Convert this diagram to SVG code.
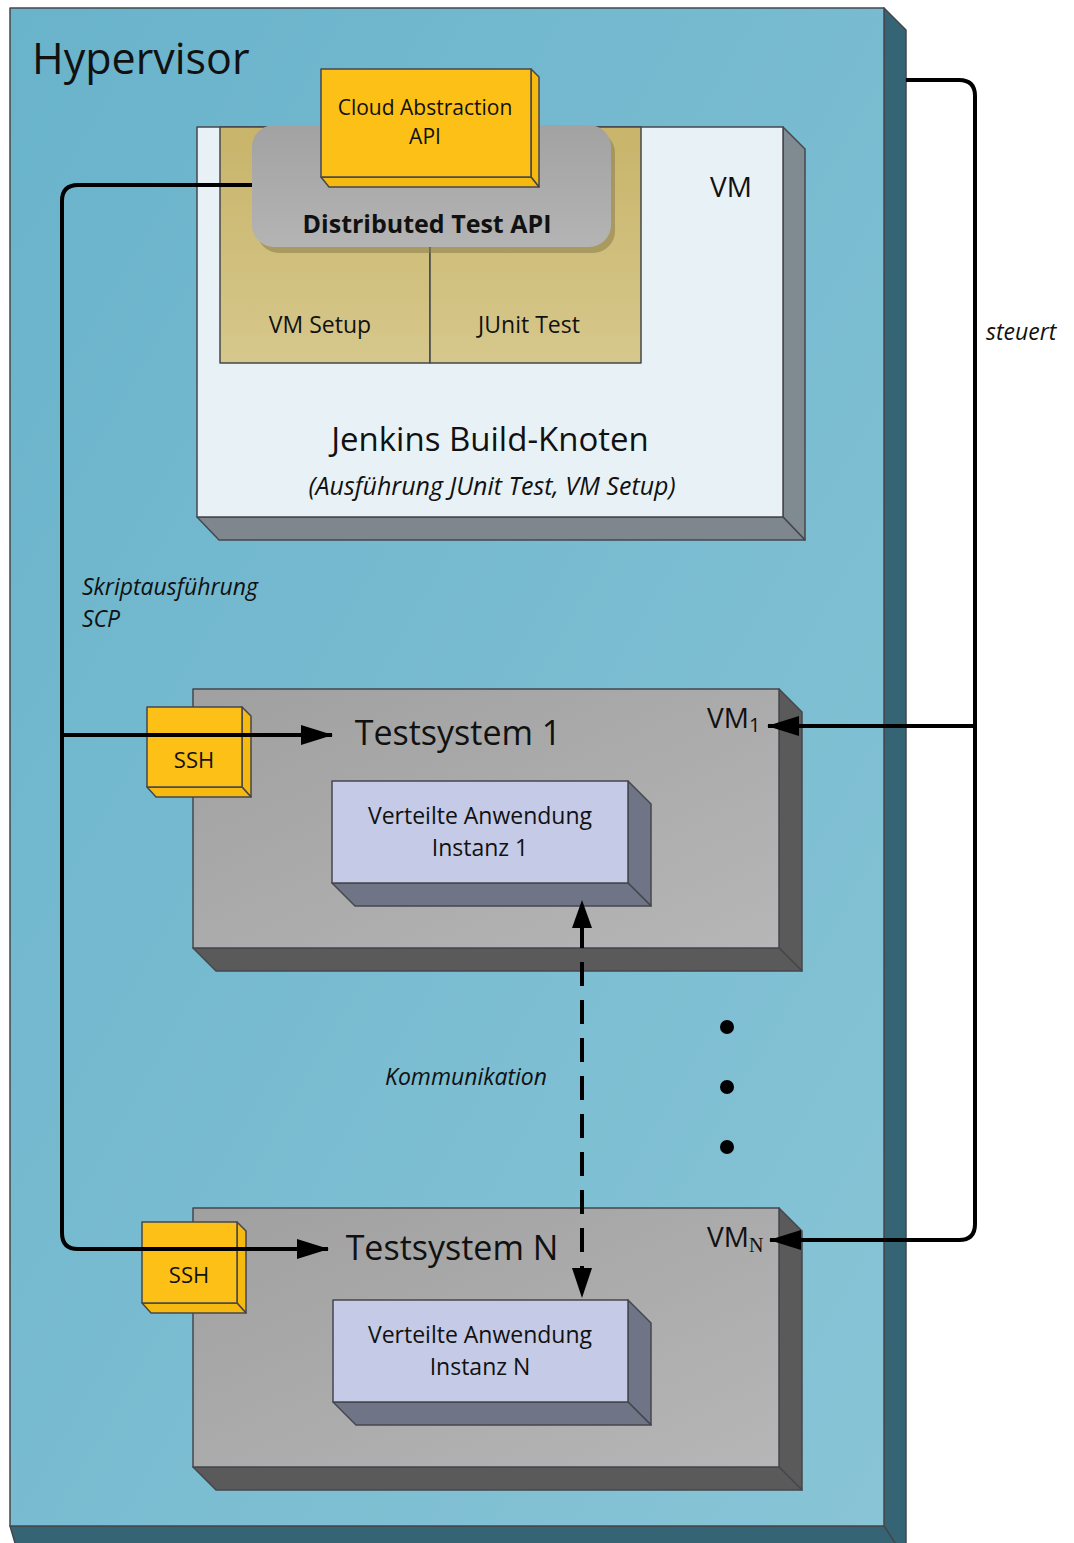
<svg xmlns="http://www.w3.org/2000/svg" width="1074" height="1543" viewBox="0 0 1074 1543">
  <style>
    text { font-family: "Open Sans", "Noto Sans", "DejaVu Sans", sans-serif; fill: #111; }
    .edge { stroke: #45474d; stroke-width: 1.5; stroke-linejoin: round; }
    .wire { fill: none; stroke: #000; stroke-width: 4; }
    .lbl { font-style: italic; font-size: 23px; }
  </style>
  <defs>
    <linearGradient id="gHyp" x1="0" y1="0" x2="1" y2="1">
      <stop offset="0" stop-color="#69b3cb"/>
      <stop offset="1" stop-color="#88c4d6"/>
    </linearGradient>
    <linearGradient id="gGray" x1="0" y1="0" x2="1" y2="1">
      <stop offset="0" stop-color="#a0a0a0"/>
      <stop offset="1" stop-color="#b6b6b6"/>
    </linearGradient>
    <linearGradient id="gGold" x1="0" y1="0" x2="0" y2="1">
      <stop offset="0" stop-color="#c8b46a"/>
      <stop offset="1" stop-color="#d6c88c"/>
    </linearGradient>
    <linearGradient id="gApi" x1="0" y1="0" x2="0" y2="1">
      <stop offset="0" stop-color="#a2a2a2"/>
      <stop offset="1" stop-color="#b4b4b4"/>
    </linearGradient>
    <marker id="ah" markerUnits="userSpaceOnUse" markerWidth="32" markerHeight="20" refX="31" refY="10" orient="auto">
      <path d="M0,0 L32,10 L0,20 z" fill="#000"/>
    </marker>
  </defs>

  <!-- Hypervisor block -->
  <g id="hypervisor">
    <polygon class="edge" points="884,8 906,30 906,1560 884,1526" fill="#356474"/>
    <polygon class="edge" points="10,1526 884,1526 906,1560 20,1560" fill="#356474"/>
    <rect class="edge" x="10" y="8" width="874" height="1518" fill="url(#gHyp)"/>
    <text x="32" y="74" font-size="43">Hypervisor</text>
  </g>

  <!-- Jenkins build node VM -->
  <g id="jenkins-vm">
    <polygon class="edge" points="783,127 805,149 805,540 783,517" fill="#808b91"/>
    <polygon class="edge" points="197,517 783,517 805,540 219,540" fill="#7d878d"/>
    <rect class="edge" x="197" y="127" width="586" height="390" fill="#e8f1f6"/>
    <text x="731" y="197" font-size="28" text-anchor="middle">VM</text>
    <text x="490" y="451" font-size="33" text-anchor="middle">Jenkins Build-Knoten</text>
    <text x="492" y="495" font-size="25" font-style="italic" text-anchor="middle">(Ausführung JUnit Test, VM Setup)</text>
  </g>

  <g id="vm-setup">
    <rect class="edge" x="220" y="127" width="210" height="236" fill="url(#gGold)"/>
    <text x="320" y="333" font-size="23" text-anchor="middle">VM Setup</text>
  </g>
  <g id="junit-test">
    <rect class="edge" x="430" y="127" width="211" height="236" fill="url(#gGold)"/>
    <text x="529" y="333" font-size="23" text-anchor="middle">JUnit Test</text>
  </g>

  <g id="distributed-test-api">
    <rect x="257" y="131" width="358" height="122" rx="22" fill="#8a7c4a" opacity="0.55"/>
    <rect x="252" y="125" width="359" height="122" rx="22" fill="url(#gApi)"/>
    <text x="427" y="233" font-size="25" font-weight="bold" text-anchor="middle">Distributed Test API</text>
  </g>

  <g id="cloud-abstraction-api">
    <polygon class="edge" points="531,69 539,77 539,187 531,177" fill="#f5b90f"/>
    <polygon class="edge" points="321,177 531,177 539,187 329,187" fill="#f5b90f"/>
    <rect class="edge" x="321" y="69" width="210" height="108" fill="#fcc016"/>
    <text x="425" y="115" font-size="21" text-anchor="middle">Cloud Abstraction</text>
    <text x="425" y="144" font-size="21" text-anchor="middle">API</text>
  </g>

  <!-- Test system 1 -->
  <g id="testsystem-1">
    <polygon class="edge" points="779,689 802,712 802,971 779,948" fill="#5a5a5a"/>
    <polygon class="edge" points="193,948 779,948 802,971 216,971" fill="#5a5a5a"/>
    <rect class="edge" x="193" y="689" width="586" height="259" fill="url(#gGray)"/>
    <text x="458" y="745" font-size="34" text-anchor="middle">Testsystem 1</text>
    <text x="707" y="728" font-size="28">VM<tspan font-size="20" dy="4">1</tspan></text>
  </g>
  <g id="instanz-1">
    <polygon class="edge" points="628,781 651,804 651,906 628,883" fill="#6f7587"/>
    <polygon class="edge" points="332,883 628,883 651,906 355,906" fill="#6f7587"/>
    <rect class="edge" x="332" y="781" width="296" height="102" fill="#c5cbe7"/>
    <text x="480" y="824" font-size="23" text-anchor="middle">Verteilte Anwendung</text>
    <text x="480" y="856" font-size="23" text-anchor="middle">Instanz 1</text>
  </g>
  <g id="ssh-1">
    <polygon class="edge" points="242,707 251,716 251,797 242,787" fill="#f5b90f"/>
    <polygon class="edge" points="147,787 242,787 251,797 156,797" fill="#f5b90f"/>
    <rect class="edge" x="147" y="707" width="95" height="80" fill="#fcc016"/>
    <text x="194" y="768" font-size="22" text-anchor="middle">SSH</text>
  </g>

  <!-- Test system N -->
  <g id="testsystem-n">
    <polygon class="edge" points="779,1208 802,1231 802,1490 779,1467" fill="#5a5a5a"/>
    <polygon class="edge" points="193,1467 779,1467 802,1490 216,1490" fill="#5a5a5a"/>
    <rect class="edge" x="193" y="1208" width="586" height="259" fill="url(#gGray)"/>
    <text x="452" y="1260" font-size="34" text-anchor="middle">Testsystem N</text>
    <text x="707" y="1247" font-size="28">VM<tspan font-family="Liberation Serif, serif" font-size="20" dy="5">N</tspan></text>
  </g>
  <g id="instanz-n">
    <polygon class="edge" points="628,1300 651,1323 651,1425 628,1402" fill="#6f7587"/>
    <polygon class="edge" points="333,1402 628,1402 651,1425 356,1425" fill="#6f7587"/>
    <rect class="edge" x="333" y="1300" width="295" height="102" fill="#c5cbe7"/>
    <text x="480" y="1343" font-size="23" text-anchor="middle">Verteilte Anwendung</text>
    <text x="480" y="1375" font-size="23" text-anchor="middle">Instanz N</text>
  </g>
  <g id="ssh-n">
    <polygon class="edge" points="237,1222 246,1231 246,1313 237,1303" fill="#f5b90f"/>
    <polygon class="edge" points="142,1303 237,1303 246,1313 151,1313" fill="#f5b90f"/>
    <rect class="edge" x="142" y="1222" width="95" height="81" fill="#fcc016"/>
    <text x="189" y="1283" font-size="22" text-anchor="middle">SSH</text>
  </g>

  <!-- ellipsis between test systems -->
  <g id="ellipsis" fill="#000">
    <circle cx="727" cy="1027" r="7"/>
    <circle cx="727" cy="1087" r="7"/>
    <circle cx="727" cy="1147" r="7"/>
  </g>

  <!-- connectors -->
  <g id="connectors">
    <path class="wire" d="M252,185 L78,185 Q62,185 62,201 L62,1233 Q62,1249 78,1249 L328,1249" marker-end="url(#ah)"/>
    <path class="wire" d="M62,735 L332,735" marker-end="url(#ah)"/>
    <path class="wire" d="M906,80 L959,80 Q975,80 975,96 L975,1224 Q975,1240 959,1240 L770,1240" marker-end="url(#ah)"/>
    <path class="wire" d="M975,726 L768,726" marker-end="url(#ah)"/>
    <path class="wire" d="M582,1290 L582,906" stroke-dasharray="24 14"/>
    <path d="M572,928 L582,900 L592,928 z" fill="#000"/>
    <path d="M572,1268 L582,1298 L592,1268 z" fill="#000"/>
    <text class="lbl" x="82" y="595">Skriptausführung</text>
    <text class="lbl" x="82" y="627">SCP</text>
    <text class="lbl" x="986" y="340" font-size="22">steuert</text>
    <text class="lbl" x="385" y="1085">Kommunikation</text>
  </g>
</svg>
